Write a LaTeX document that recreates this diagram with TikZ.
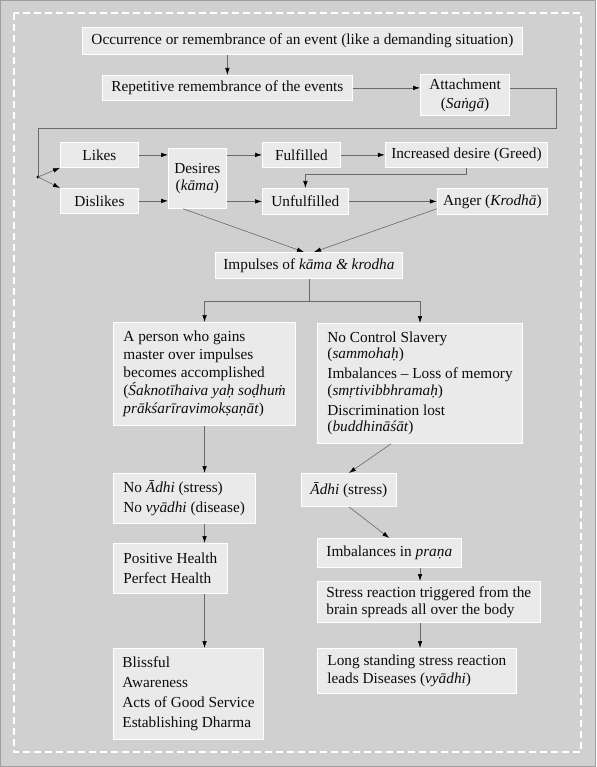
\documentclass[tikz,border=0pt]{standalone}
\usepackage{fontspec}
\setmainfont{Liberation Serif}
\usetikzlibrary{arrows.meta}
\definecolor{bggray}{RGB}{208,208,208}
\definecolor{boxgray}{RGB}{234,234,234}
\definecolor{linegray}{RGB}{105,105,105}
\definecolor{inkblack}{RGB}{12,12,12}
\begin{document}
\begin{tikzpicture}[x=1pt,y=-1pt,
    box/.style={draw=white,line width=0.8pt,fill=boxgray,text=inkblack,
        font=\fontsize{15.3}{18}\selectfont,inner xsep=9pt,inner ysep=3pt,
        minimum height=25pt,anchor=north west},
    wire/.style={draw=linegray,line width=0.6pt},
    link/.style={wire,-{Latex[length=7pt,width=4.5pt,color=black]}}]
        %% Background and frame
        \useasboundingbox (0,0) rectangle (596,767);
        \fill[bggray] (0,0) rectangle (596,767);
        \draw[gray!75,line width=1pt] (0.5,0.5) rectangle (595.5,766.5);
        \draw[white,line width=1.5pt,dash pattern=on 7pt off 4pt] (14,13) rectangle (581,752);
        %% event chain
        \node[box,minimum width=440pt,minimum height=27pt] (occ) at (82,27) {Occurrence or remembrance of an event (like a demanding situation)};
        \node[box] (rep) at (102,75) {Repetitive remembrance of the events};
        \node[box,align=center,minimum height=41pt,font=\fontsize{15.3}{19}\selectfont] (att) at (420,74) {Attachment\\(\textit{Saṅgā})};
        %% likes and dislikes row
        \node[box,minimum width=78pt] (likes) at (60,142) {Likes};
        \node[box,minimum width=78pt] (dislikes) at (60,188) {Dislikes};
        \node[box,align=center,inner xsep=6pt,minimum height=60pt,font=\fontsize{15.3}{17}\selectfont] (desires) at (168,148) {Desires\\(\textit{kāma})};
        \node[box,minimum width=78pt] (fulf) at (262,142) {Fulfilled};
        \node[box,minimum width=78pt,minimum height=26pt] (unful) at (262,188) {Unfulfilled};
        \node[box,anchor=north east,inner xsep=6pt] (greed) at (548,142) {Increased desire (Greed)};
        \node[box,anchor=north east,inner xsep=6pt,minimum height=26pt] (anger) at (548,188) {Anger (\textit{Krodhā})};
        \node[box,inner xsep=8pt,minimum height=26pt] (imp) at (215,252) {Impulses of \textit{kāma \& krodha}};
        %% left column
        \node[box,align=left,inner xsep=10pt,minimum height=103pt] (person) at (113,322) {A person who gains\\master over impulses\\becomes accomplished\\(\textit{Śaknotīhaiva yaḥ soḍhuṁ}\\\textit{prākśarīravimokṣaṇāt})};
        \node[box,align=left,inner xsep=10pt,minimum height=50pt,font=\fontsize{15.3}{20}\selectfont] (noadhi) at (113,473) {No \textit{Ādhi} (stress)\\No \textit{vyādhi} (disease)};
        \node[box,align=left,inner xsep=10pt,minimum height=50pt,font=\fontsize{15.3}{20}\selectfont] (posh) at (113,543) {Positive Health\\Perfect Health};
        \node[box,align=left,inner xsep=9pt,minimum height=91pt,font=\fontsize{15.3}{20}\selectfont] (bliss) at (113,648) {Blissful\\Awareness\\Acts of Good Service\\Establishing Dharma};
        %% right column
        \node[box,align=left,inner xsep=10pt,minimum height=120pt,font=\fontsize{15.3}{16.5}\selectfont] (slave) at (317,323) {No Control Slavery\\(\textit{sammohaḥ})\\[3.5pt]Imbalances -- Loss of memory\\(\textit{smṛtivibbhramaḥ})\\[3.5pt]Discrimination lost\\(\textit{buddhināśāt})};
        \node[box,minimum height=33pt] (adhi) at (301,473) {\textit{Ādhi} (stress)};
        \node[box,minimum height=29pt] (prana) at (317,538) {Imbalances in \textit{praṇa}};
        \node[box,align=left,minimum height=41pt,font=\fontsize{15.3}{17}\selectfont] (stress) at (317,581) {Stress reaction triggered from the\\brain spreads all over the body};
        \node[box,align=left,inner xsep=10pt,minimum height=45pt] (long) at (317,648) {Long standing stress reaction\\leads Diseases (\textit{vyādhi})};
        %% routing points
        \coordinate (turn) at (556,128);
        \coordinate (dot) at (38,177);
        \coordinate (fork) at (imp.south |- 0,301);
        %% top connectors
        \draw[link] (occ.south -| rep.north) -- (rep.north);
        \draw[link] (rep.east) -- (rep.east -| att.west);
        \draw[wire] (rep.east -| att.east) -| (turn) -| (dot);
        \fill[black] (dot) circle (1.6pt);
        \draw[link] (dot) -- (likes.south west);
        \draw[link] (dot) -- (dislikes.north west);
        %% middle connectors
        \draw[link] (likes.east) -- (likes.east -| desires.west);
        \draw[link] (dislikes.east) -- (dislikes.east -| desires.west);
        \draw[link] (fulf.west -| desires.east) -- (fulf.west);
        \draw[link] (unful.west -| desires.east) -- (unful.west);
        \draw[link] (fulf) -- (greed);
        \draw[link] (unful) -- (anger);
        \draw[link] (greed.south) -- ++(0,7) -| (unful.north);
        \draw[link] (desires.-115) -- ([xshift=-5pt]imp.north);
        \draw[link] ([yshift=6pt]anger.south west) -- ([xshift=5pt]imp.north);
        %% split
        \draw[wire] (imp.south) -- (fork);
        \draw[link] (fork) -| (person.north);
        \draw[link] (fork) -| (slave.north);
        %% left column connectors
        \draw[link] (person.south) -- (person.south |- noadhi.north);
        \draw[link] (noadhi.south -| person.south) -- (posh.north -| person.south);
        \draw[link] (posh.south -| person.south) -- (bliss.north -| person.south);
        %% right column connectors
        \draw[link] ([xshift=-29pt]slave.south) -- (adhi.north);
        \draw[link] (adhi.south) -- (prana.north);
        \draw[link] (prana.south -| slave.south) -- (stress.north -| slave.south);
        \draw[link] (stress.south -| slave.south) -- (long.north -| slave.south);
\end{tikzpicture}
\end{document}
